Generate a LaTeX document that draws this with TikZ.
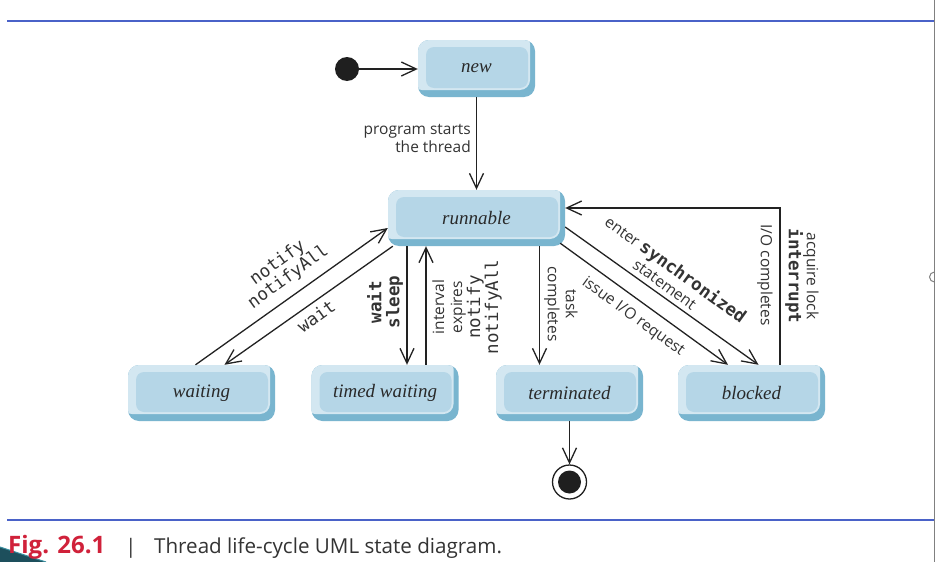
\documentclass[tikz,border=0pt]{standalone}
\usepackage{fontspec}
\setmainfont{Open Sans}
\newfontfamily\lblfont{Open Sans}
\newfontfamily\codefont{DejaVu Sans Mono}
\newfontfamily\statefont{Liberation Serif}
\usetikzlibrary{arrows.meta,calc}
\definecolor{bvLight}{HTML}{D3E7F1}
\definecolor{bvFace}{HTML}{B5D6E7}
\definecolor{bvDark}{HTML}{79B5CF}
\definecolor{lineC}{HTML}{222222}
\definecolor{txtC}{HTML}{333333}
\definecolor{ruleC}{HTML}{4A62C8}
\definecolor{figred}{HTML}{D0213A}
\definecolor{cornerDark}{HTML}{1D4F5C}
\definecolor{cornerLight}{HTML}{3A8FA0}
\newcommand\cdr[1]{{\codefont\fontsize{17.5}{18}\selectfont #1}}
\newcommand\cdb[1]{{\codefont\bfseries\fontsize{17.5}{18}\selectfont #1}}
\begin{document}
\begin{tikzpicture}[x=1pt,y=-1pt,
  state/.style={rectangle, rounded corners=11pt, minimum width=147pt, minimum height=56pt,
    inner sep=0pt, font=\statefont\itshape\fontsize{19}{21}\selectfont, text=txtC!80!black, fill=bvDark,
    path picture={
      \fill[bvLight, rounded corners=10pt]
        ([xshift=-6pt,yshift=6pt]path picture bounding box.north west) rectangle
        ([xshift=-5pt,yshift=7pt]path picture bounding box.south east);
      \fill[bvFace, rounded corners=8pt]
        ([xshift=8pt,yshift=-7pt]path picture bounding box.north west) rectangle
        ([xshift=-7pt,yshift=9pt]path picture bounding box.south east);
    }},
  conn/.style={draw=lineC, line width=1.3pt, -{Straight Barb[length=15pt,width=14pt]}},
  lbl/.style={font=\lblfont\fontsize{15.5}{18}\selectfont, text=txtC, align=center, inner sep=0pt},
  codelbl/.style={lbl, font=\codefont\fontsize{17.5}{18}\selectfont},
  codebold/.style={lbl, font=\codefont\bfseries\fontsize{17.5}{18}\selectfont}
]
\useasboundingbox (0,0) rectangle (935,562);
\fill[white] (0,0) rectangle (935,562);

% frame
\draw[ruleC, line width=2pt] (7,21) -- (934,21);
\draw[ruleC, line width=2pt] (7,520) -- (934,520);
\draw[gray, line width=1pt] (934.5,0) -- (934.5,282) arc[start angle=90,end angle=270,radius=5] -- (934.5,562);
\fill[cornerDark] (0,547) -- (46,562) -- (0,562) -- cycle;
\draw[cornerLight, line width=1pt] (0,547) -- (46,562);

% states
\node[state, minimum width=117pt, minimum height=57pt] (new) at (476.5,68.5) {new};
\node[state, minimum width=177pt] (runnable) at (476.5,218) {runnable};
\node[state] (waiting) at (201.5,393) {waiting};
\node[state] (timed) at (385,393) {timed waiting};
\node[state] (terminated) at (569.5,393) {terminated};
\node[state] (blocked) at (751.5,393) {blocked};

\node[circle, fill=black!88, minimum size=24pt, inner sep=0pt] (init) at (347,69) {};
\node[circle, draw=black!88, line width=1.3pt, minimum size=34pt, inner sep=0pt] (final) at (569.5,482) {};
\node[circle, fill=black!88, minimum size=23pt, inner sep=0pt] (finalin) at (final) {};

% connectors
\draw[conn] (init) -- (init -| new.west);
\draw[conn] (new.south) -- (new.south |- runnable.north);
\draw[conn] ([xshift=5pt]runnable.south west) -- ([xshift=23pt]waiting.north);
\draw[conn] ([xshift=-6pt]waiting.north) -- ([yshift=-10pt]runnable.west);
\coordinate (tw1) at ([xshift=22pt]timed.north);
\coordinate (tw2) at ([xshift=41pt]timed.north);
\coordinate (te1) at ([xshift=-30pt]terminated.north);
\draw[conn] (tw1 |- runnable.south) -- (tw1);
\draw[conn] (tw2) -- (tw2 |- runnable.south);
\draw[conn] (te1 |- runnable.south) -- (te1);
\draw[conn] ([xshift=-5pt,yshift=3pt]runnable.south east) -- ([xshift=-23.5pt]blocked.north);
\draw[conn] ([yshift=-9pt]runnable.east) -- ([xshift=7pt]blocked.north);
\draw[conn] ([xshift=28.5pt]blocked.north) |- ([yshift=10pt]runnable.east);
\draw[conn] (terminated.south) -- (final.north);

% labels
\node[lbl, anchor=east, align=right] (lProg) at (471,138) {program starts\\the thread};
\node[codelbl, rotate=36] (lNotify) at (283,270) {notify\\notifyAll};
\node[codelbl, rotate=36] (lWait) at (316,316) {wait};
\node[codebold, rotate=90] (lWS) at (385,302) {wait\\sleep};
\node[lbl, rotate=90] (lInt) at (467,307) {interval\\expires\\\cdr{notify}\\\cdr{notifyAll}};
\node[lbl, rotate=-90] (lTask) at (561,304) {task\\completes};
\node[lbl, rotate=-36] (lIssue) at (633,317) {issue I/O request};
\node[lbl, rotate=-36] (lEnter) at (671,276) {enter \cdb{synchronized}\\statement};
\node[lbl, rotate=-90] (lIOc) at (765,275) {I/O completes};
\node[lbl, rotate=-90] (lAcq) at (802,276) {acquire lock\\\cdb{interrupt}};

% caption
\node[anchor=base west, inner sep=0pt, font=\bfseries\fontsize{24}{26}\selectfont, text=figred] (figno) at (8,553) {Fig. 26.1};
\node[anchor=base, inner sep=0pt, font=\fontsize{20}{24}\selectfont, text=txtC] (figbar) at (131,553) {|};
\node[anchor=base west, inner sep=0pt, font=\fontsize{20.6}{24}\selectfont, text=txtC] (figtxt) at (154,553) {Thread life-cycle UML state diagram.};
\end{tikzpicture}
\end{document}
